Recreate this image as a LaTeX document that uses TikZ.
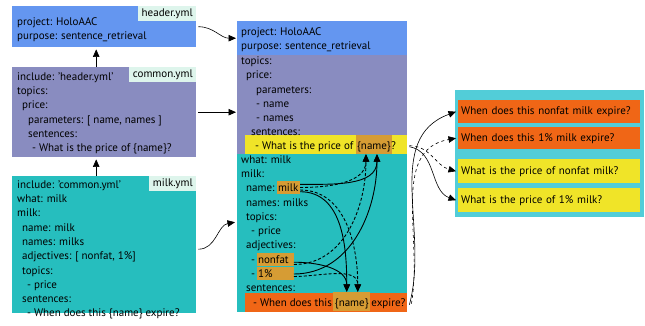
\documentclass[tikz,border=0pt]{standalone}
\usepackage{fontspec}
\setmainfont{PT Sans}
\usetikzlibrary{arrows.meta,positioning}
\definecolor{hdrblue}{RGB}{100,150,240}
\definecolor{compurple}{RGB}{137,140,192}
\definecolor{milkteal}{RGB}{38,190,190}
\definecolor{tabmint}{RGB}{222,245,236}
\definecolor{sentyellow}{RGB}{240,228,40}
\definecolor{sentorange}{RGB}{240,102,22}
\definecolor{namegold}{RGB}{214,156,52}
\definecolor{outcyan}{RGB}{82,205,216}
\newcommand\yfont{\fontsize{11}{13}\selectfont}
\tikzset{
    %Define standard arrow tip
    >={Triangle[length=7.5pt,width=6.5pt]},
    %Define style for yml boxes
    yml/.style={
           rectangle,
           inner sep=0pt,
           anchor=north west},
    tab/.style={
           rectangle,
           fill=tabmint,
           anchor=north east,
           inner xsep=3.5pt, inner ysep=0pt,
           text height=10.5pt, text depth=4.5pt,
           font=\yfont},
    ln/.style={
           anchor=base west,
           inner sep=0pt,
           font=\yfont},
    hl/.style={
           fill=namegold,
           anchor=base west,
           inner xsep=1.5pt, inner ysep=0pt,
           text height=10.5pt, text depth=2.5pt,
           font=\yfont},
    hlrow/.style={hl, text height=14pt, text depth=5pt},
    outrow/.style={
           rectangle,
           anchor=north west,
           text width=176pt, align=left,
           inner xsep=3pt, inner ysep=0pt,
           font=\yfont},
    % Define arrow styles
    feed/.style={->, line width=0.6pt},
    link/.style={->, line width=0.9pt},
    linkd/.style={link, dashed, dash pattern=on 3pt off 2pt}
}
\begin{document}
\begin{tikzpicture}[x=1pt,y=-1pt]
\useasboundingbox (0,0) rectangle (645,325);

% left column: the three source files
\node[yml, fill=hdrblue, minimum width=184pt, minimum height=41pt](hdr) at (12,6){};
\node[tab](hdrtab) at (hdr.north east){header.yml};
\node[ln](h1) at (17,25){project: HoloAAC};
\node[ln](h2) at (17,39){purpose: sentence\_retrieval};

\node[yml, fill=compurple, minimum width=184pt, minimum height=90pt](com) at (12,67){};
\node[tab](comtab) at (com.north east){common.yml};
\node[ln](c1) at (17,80){include: 'header.yml'};
\node[ln](c2) at (17,94){topics:};
\node[ln](c3) at (22,108){price:};
\node[ln](c4) at (28,123){parameters: [ name, names ]};
\node[ln](c5) at (28,137){sentences:};
\node[ln](c6) at (32,151){- What is the price of \{name\}?};

\node[yml, fill=milkteal, minimum width=184pt, minimum height=137pt](milk) at (12,176){};
\node[tab](milktab) at (milk.north east){milk.yml};
\node[ln](m1) at (17,188){include: 'common.yml'};
\node[ln](m2) at (17,202){what: milk};
\node[ln](m3) at (17,216.5){milk:};
\node[ln](m4) at (22,231){name: milk};
\node[ln](m5) at (22,245){names: milks};
\node[ln](m6) at (22,259.5){adjectives: [ nonfat, 1\%]};
\node[ln](m7) at (22,274){topics:};
\node[ln](m8) at (27,288){- price};
\node[ln](m9) at (22,302){sentences:};
\node[ln](m10) at (27,316.5){- When does this \{name\} expire?};

\draw[feed,shorten >=2pt] ([xshift=-8pt]com.north) -- ([xshift=-8pt]hdr.south);
\draw[feed,shorten >=2pt] ([xshift=-8pt]milk.north) -- ([xshift=-8pt]com.south);

% middle column: the merged file
\node[yml, fill=hdrblue, minimum width=170pt, minimum height=34pt](mhdr) at (237,21){};
\node[yml, fill=compurple, minimum width=170pt, minimum height=99pt](mcom) at (237,55){};
\node[yml, fill=milkteal, minimum width=170pt, minimum height=158pt](mmilk) at (237,154){};
\node[yml, fill=sentyellow, minimum width=162pt, minimum height=19pt](prow) at (245,135){};
\node[yml, fill=sentorange, minimum width=162pt, minimum height=19pt](wrow) at (245,293){};

\node[ln](t1) at (241,35){project: HoloAAC};
\node[ln](t2) at (241,49){purpose: sentence\_retrieval};
\node[ln](t3) at (241,64){topics:};
\node[ln](t4) at (246,78){price:};
\node[ln](t5) at (256,93){parameters:};
\node[ln](t6) at (256,107){- name};
\node[ln](t7) at (256,121){- names};
\node[ln](t8) at (251,135){sentences:};
\node[ln](t9) at (255,149){- What is the price of};
\node[hlrow, right=2pt of t9.base east, anchor=base west](pname){\{name\}};
\node[ln, anchor=base west](t9b) at ([xshift=-1.5pt]pname.base east){?};
\node[ln](t10) at (241,163){what: milk};
\node[ln](t11) at (241,177){milk:};
\node[ln](t12) at (246,191.5){name:};
\node[hl, right=1.5pt of t12.base east, anchor=base west](hmilk){milk};
\node[ln](t13) at (246,206){names: milks};
\node[ln](t14) at (246,220){topics:};
\node[ln](t15) at (251,234){- price};
\node[ln](t16) at (246,248.5){adjectives:};
\node[ln](t17) at (251,263){-};
\node[hl, text width=34pt, right=1pt of t17.base east, anchor=base west](hnonfat){nonfat};
\node[ln](t18) at (251,277){-};
\node[hl, text width=34pt, right=1pt of t18.base east, anchor=base west](hone){1\%};
\node[ln](t19) at (246,291){sentences:};
\node[ln](t20) at (253,306){- When does this};
\node[hlrow, right=1pt of t20.base east, anchor=base west](wname){\{name\}};
\node[ln, right=1pt of wname.base east, anchor=base west](t20b){expire?};

% right column: generated sentences
\node[yml, fill=outcyan, minimum width=189pt, minimum height=127pt](out) at (455,90){};
\node[outrow, fill=sentorange, minimum height=23pt](r1) at (458,100){When does this nonfat milk expire?};
\node[outrow, fill=sentorange, minimum height=22pt](r2) at (458,127){When does this 1\% milk expire?};
\node[outrow, fill=sentyellow, minimum height=24pt](r3) at (458,159){What is the price of nonfat milk?};
\node[outrow, fill=sentyellow, minimum height=24pt](r4) at (458,188){What is the price of 1\% milk?};

% files into the merge
\draw[feed] ([xshift=2pt]hdr.east) to[out=0,in=180] ([xshift=-1pt]mhdr.west);
\draw[feed] ([xshift=2pt]com.east) -- ([xshift=-1pt]com.east -| mcom.west);
\draw[feed] ([shift={(2pt,-4.5pt)}]milk.east) to[out=0,in=190] ([shift={(-2pt,11pt)}]mmilk.west);

% substitutions inside the merge
\draw[link] ([yshift=3.2pt]hmilk.east) to[out=0,in=-90] ([xshift=3pt]pname.south);
\draw[linkd] ([yshift=0pt]hmilk.east) to[out=0,in=-90] ([xshift=-8pt]pname.south);
\draw[linkd] ([yshift=-2.5pt]hmilk.east) to[out=0,in=90] ([xshift=6pt]wname.north);
\draw[link] ([yshift=-4.2pt]hmilk.east) to[out=0,in=90] ([xshift=-5pt]wname.north);
\draw[link] ([yshift=-3.2pt]hnonfat.east) to[out=0,in=90] ([xshift=-5pt]wname.north);
\draw[linkd] ([yshift=-5.5pt]hnonfat.east) to[out=0,in=-90] ([xshift=-8pt]pname.south);
\draw[link] ([yshift=-1pt]hone.east) to[out=0,in=-90] ([xshift=3pt]pname.south);
\draw[linkd] ([yshift=-3.5pt]hone.east) to[out=0,in=90] ([xshift=6pt]wname.north);

% merged sentences out to the results
\draw[feed, dashed] ([shift={(2pt,-1pt)}]prow.east) to[out=0,in=165] ([xshift=-2pt]r3.west);
\draw[feed] ([shift={(2pt,-2pt)}]prow.east) to[out=-10,in=160] ([xshift=-2pt]r4.west);
\draw[feed] ([shift={(2pt,-2pt)}]wrow.east) to[out=75,in=200] ([xshift=-2pt]r1.west);
\draw[feed, dashed] ([shift={(4pt,-1pt)}]wrow.east) to[out=80,in=190] ([xshift=-2pt]r2.west);
\end{tikzpicture}
\end{document}
